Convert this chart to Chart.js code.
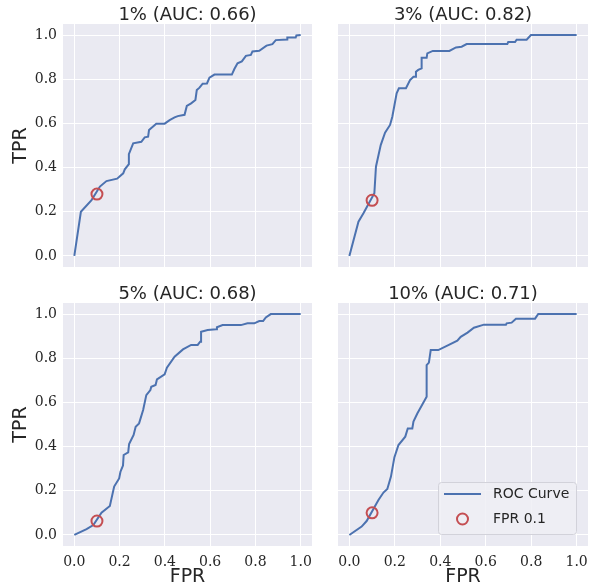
<!DOCTYPE html>
<html lang="en">
<head>
<meta charset="UTF-8">
<title>ROC Curves</title>
<script src="https://cdn.jsdelivr.net/npm/chart.js"></script>
<style>
  body { margin: 0; background: #fff; }
  #wrap { position: relative; width: 595px; height: 587px; }
  #wrap canvas { position: absolute; }
</style>
</head>
<body>
<div id="wrap">
  <canvas id="c1" width="318" height="270" style="left:0;top:0"></canvas>
  <canvas id="c3" width="256" height="270" style="left:338px;top:0"></canvas>
  <canvas id="c5" width="318" height="308" style="left:0;top:279px"></canvas>
  <canvas id="c10" width="256" height="308" style="left:338px;top:279px"></canvas>
</div>

<script>
    // tick positions shared by both axes
    const axisTicks = [0, 0.2, 0.4, 0.6, 0.8, 1.0];

    const panelTitles = ["1% (AUC: 0.66)", "3% (AUC: 0.82)", "5% (AUC: 0.68)", "10% (AUC: 0.71)"];

    // ROC curve points
    const fpr1 = [0, 0.029, 0.076, 0.113, 0.142, 0.189, 0.216, 0.223, 0.241, 0.241, 0.26, 0.296, 0.311, 0.326, 0.33, 0.362, 0.399, 0.421, 0.443, 0.457, 0.487, 0.497, 0.516, 0.535, 0.541, 0.553, 0.567, 0.586, 0.597, 0.619, 0.696, 0.707, 0.721, 0.74, 0.758, 0.78, 0.787, 0.817, 0.849, 0.875, 0.89, 0.941, 0.941, 0.978, 0.981, 1.0];
    const tpr1 = [0, 0.2, 0.253, 0.314, 0.339, 0.35, 0.374, 0.392, 0.416, 0.461, 0.51, 0.517, 0.537, 0.54, 0.57, 0.599, 0.599, 0.615, 0.627, 0.633, 0.639, 0.679, 0.691, 0.706, 0.751, 0.762, 0.78, 0.781, 0.807, 0.821, 0.821, 0.846, 0.872, 0.881, 0.906, 0.91, 0.926, 0.929, 0.952, 0.959, 0.977, 0.98, 0.989, 0.989, 0.998, 1.0];

    const fpr3 = [0, 0.04, 0.062, 0.11, 0.117, 0.138, 0.157, 0.179, 0.189, 0.208, 0.218, 0.249, 0.267, 0.282, 0.289, 0.293, 0.303, 0.318, 0.318, 0.34, 0.343, 0.367, 0.44, 0.469, 0.494, 0.516, 0.695, 0.699, 0.729, 0.736, 0.78, 0.799, 1.0];
    const tpr3 = [0, 0.155, 0.193, 0.284, 0.404, 0.502, 0.558, 0.593, 0.63, 0.736, 0.759, 0.759, 0.796, 0.811, 0.811, 0.834, 0.842, 0.849, 0.897, 0.897, 0.917, 0.928, 0.928, 0.944, 0.947, 0.959, 0.959, 0.968, 0.968, 0.979, 0.979, 1.0, 1.0];

    const fpr5 = [0, 0.054, 0.084, 0.12, 0.157, 0.176, 0.198, 0.204, 0.215, 0.218, 0.238, 0.242, 0.262, 0.271, 0.286, 0.304, 0.318, 0.336, 0.34, 0.359, 0.365, 0.399, 0.409, 0.443, 0.48, 0.516, 0.545, 0.556, 0.56, 0.56, 0.589, 0.626, 0.63, 0.655, 0.736, 0.765, 0.795, 0.817, 0.834, 0.846, 0.868, 1.0];
    const tpr5 = [0, 0.026, 0.045, 0.101, 0.131, 0.219, 0.256, 0.287, 0.314, 0.362, 0.374, 0.412, 0.453, 0.49, 0.505, 0.566, 0.633, 0.656, 0.671, 0.679, 0.704, 0.727, 0.757, 0.807, 0.84, 0.86, 0.86, 0.875, 0.875, 0.92, 0.928, 0.931, 0.94, 0.95, 0.95, 0.958, 0.958, 0.968, 0.968, 0.985, 1.0, 1.0];

    const fpr10 = [0, 0.054, 0.076, 0.128, 0.15, 0.167, 0.183, 0.198, 0.216, 0.246, 0.257, 0.277, 0.282, 0.299, 0.34, 0.34, 0.35, 0.358, 0.391, 0.44, 0.475, 0.49, 0.52, 0.548, 0.592, 0.689, 0.692, 0.714, 0.733, 0.817, 0.831, 1.0];
    const tpr10 = [0, 0.038, 0.063, 0.158, 0.192, 0.208, 0.264, 0.351, 0.407, 0.445, 0.482, 0.482, 0.513, 0.55, 0.626, 0.769, 0.78, 0.837, 0.837, 0.862, 0.879, 0.897, 0.916, 0.938, 0.952, 0.952, 0.958, 0.961, 0.979, 0.979, 1.0, 1.0];

    // TPR at FPR = 0.1 for each panel
    const markerFpr = 0.1;
    const markerTpr = [0.28, 0.252, 0.063, 0.1];

    const lineColor = "#4C72B0";
    const markerColor = "#C44E52";
    const textColor = "#262626";

    const plotBg = {
        id: "plotBg",
        beforeDraw(chart) {
            const { ctx, chartArea: a } = chart;
            ctx.save();
            ctx.fillStyle = "#EAEAF2";
            ctx.fillRect(a.left, a.top, a.right - a.left, a.bottom - a.top);
            ctx.restore();
        }
    };

    // matplotlib style legend box in the lower right corner
    const cornerLegend = {
        id: "cornerLegend",
        afterDraw(chart) {
            const { ctx, chartArea: a } = chart;
            const w = 138, h = 52;
            const left = a.right - 12 - w, top = a.bottom - 12 - h;
            const mark = chart.data.datasets[0], roc = chart.data.datasets[1];
            ctx.save();
            ctx.beginPath();
            ctx.roundRect(left + 0.5, top + 0.5, w, h, 3);
            ctx.fillStyle = "rgba(238,238,244,0.85)";
            ctx.fill();
            ctx.strokeStyle = "#d2d2da";
            ctx.lineWidth = 1;
            ctx.stroke();

            ctx.strokeStyle = lineColor;
            ctx.lineWidth = 2;
            ctx.beginPath();
            ctx.moveTo(left + 6, top + 12);
            ctx.lineTo(left + 43, top + 12);
            ctx.stroke();

            ctx.strokeStyle = markerColor;
            ctx.beginPath();
            ctx.arc(left + 24.5, top + 37, 5.5, 0, Math.PI * 2);
            ctx.stroke();

            ctx.fillStyle = textColor;
            ctx.font = "14px 'DejaVu Sans'";
            ctx.textBaseline = "middle";
            ctx.fillText(roc.label, left + 55, top + 12);
            ctx.fillText(mark.label, left + 55, top + 37);
            ctx.restore();
        }
    };

    function makePanel(id, title, fpr, tpr, mTpr, showX, showY, withLegend) {
        const axis = (show, isX) => ({
            type: "linear",
            min: -0.05,
            max: 1.05,
            afterBuildTicks: s => { s.ticks = axisTicks.map(v => ({ value: v })); },
            afterFit: s => {
                // fixed axis sizes, no label overflow padding
                if (isX) s.height = show ? 41 : 0;
                else s.width = show ? 63 : 0;
                s.paddingTop = s.paddingBottom = s.paddingLeft = s.paddingRight = 0;
            },
            border: { display: false },
            grid: { color: "#ffffff", lineWidth: 1, drawTicks: false },
            ticks: {
                display: show,
                padding: isX ? 8 : 6,
                color: textColor,
                font: { family: "'DejaVu Serif'", size: 14 },
                callback: v => v.toFixed(1)
            },
            title: {
                display: show,
                text: isX ? "FPR" : "TPR",
                color: textColor,
                font: { family: "'DejaVu Sans'", size: 19 },
                padding: isX ? { top: 0, bottom: -1 } : { top: 10, bottom: 0 }
            }
        });

        new Chart(document.getElementById(id), {
            type: "scatter",
            data: {
                datasets: [
                    {
                        label: "FPR 0.1",
                        data: [{ x: markerFpr, y: mTpr }],
                        pointStyle: "circle",
                        pointRadius: 5.5,
                        pointBorderWidth: 2,
                        pointBorderColor: markerColor,
                        pointBackgroundColor: "rgba(0,0,0,0)",
                        showLine: false
                    },
                    {
                        label: "ROC Curve",
                        data: fpr.map((x, i) => ({ x: x, y: tpr[i] })),
                        showLine: true,
                        borderColor: lineColor,
                        borderWidth: 2,
                        pointRadius: 0
                    }
                ]
            },
            options: {
                responsive: false,
                animation: false,
                layout: { autoPadding: false, padding: { left: 0, right: 6, top: 0, bottom: showX ? 0 : 3 } },
                scales: { x: axis(showX, true), y: axis(showY, false) },
                plugins: {
                    legend: { display: false },
                    tooltip: { enabled: false },
                    title: {
                        display: true,
                        fullSize: false,
                        text: title,
                        color: textColor,
                        font: { family: "'DejaVu Sans'", size: 18, weight: "normal", lineHeight: 1 },
                        padding: { top: 6, bottom: 0 }
                    }
                }
            },
            plugins: withLegend ? [plotBg, cornerLegend] : [plotBg]
        });
    }

    makePanel("c1", panelTitles[0], fpr1, tpr1, markerTpr[0], false, true, false);
    makePanel("c3", panelTitles[1], fpr3, tpr3, markerTpr[1], false, false, false);
    makePanel("c5", panelTitles[2], fpr5, tpr5, markerTpr[2], true, true, false);
    makePanel("c10", panelTitles[3], fpr10, tpr10, markerTpr[3], true, false, true);
</script>
</body>
</html>
